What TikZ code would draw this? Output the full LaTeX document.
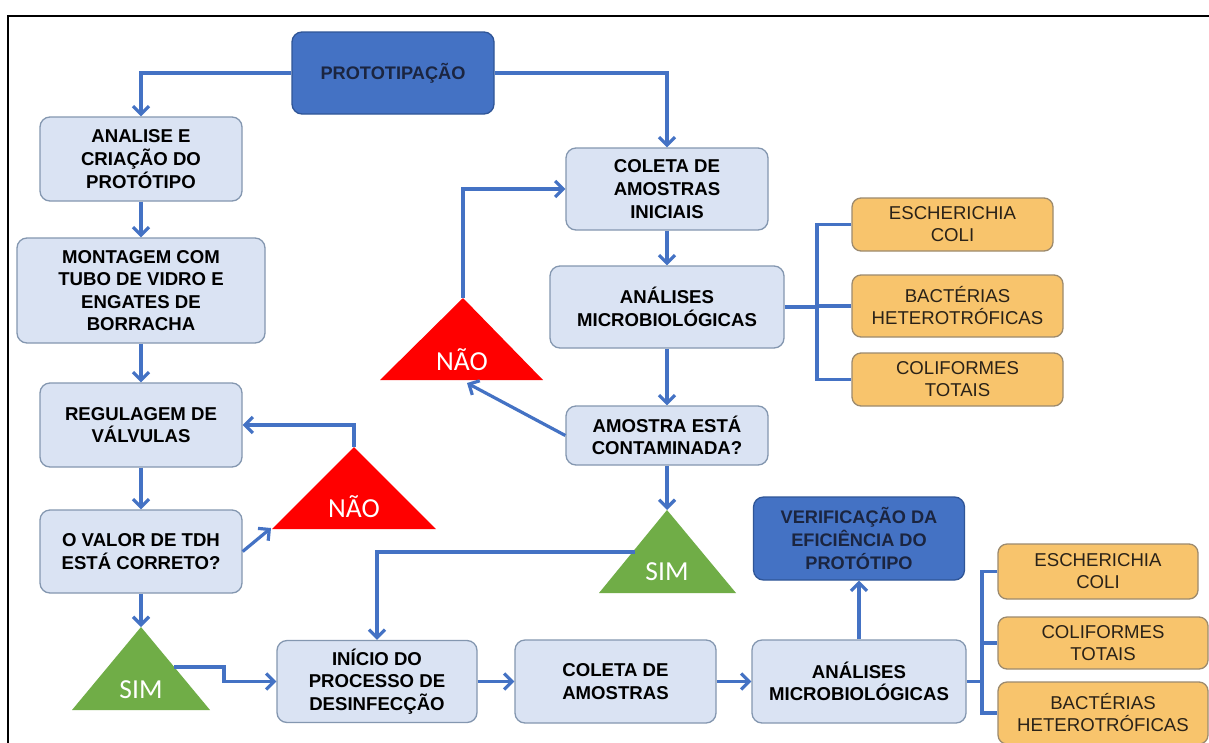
\documentclass[tikz,border=0pt]{standalone}
\usepackage{fontspec}
\setmainfont{Liberation Sans}
\newfontfamily\trifont{Carlito}
\usetikzlibrary{arrows.meta}
\definecolor{linecol}{HTML}{4472C4}
\definecolor{boxfill}{HTML}{DAE3F3}
\definecolor{boxedge}{HTML}{8497B0}
\definecolor{darkfill}{HTML}{4472C4}
\definecolor{darkedge}{HTML}{2F5597}
\definecolor{darktext}{HTML}{1B2540}
\definecolor{orfill}{HTML}{F8C46C}
\definecolor{oredge}{HTML}{9C8A6E}
\definecolor{ortext}{HTML}{2A2218}
\definecolor{trired}{HTML}{FF0000}
\definecolor{trigreen}{HTML}{70AD47}
\tikzset{
  sz/.style 2 args={minimum width=#1pt, minimum height=#2pt},
  box/.style={draw=boxedge, fill=boxfill, rounded corners=10pt, line width=1.3pt,
    align=center, inner sep=0pt, text=black,
    font=\bfseries\fontsize{18.6}{22.6}\selectfont},
  darkbox/.style={box, draw=darkedge, fill=darkfill, text=darktext,
    font=\bfseries\fontsize{18.2}{22.6}\selectfont},
  orbox/.style={draw=oredge, fill=orfill, rounded corners=9pt, line width=1.3pt,
    align=center, inner sep=0pt, text=ortext,
    font=\fontsize{18.6}{22}\selectfont},
  tritext/.style={text=white, inner sep=0pt, font=\trifont\fontsize{27.5}{27.5}\selectfont},
  conn/.style={draw=linecol, line width=3.2pt, -{Straight Barb[length=8pt,width=16pt]}},
  plain/.style={draw=linecol, line width=3.2pt},
}
\begin{document}
\begin{tikzpicture}[x=1pt,y=-1pt]
\useasboundingbox (0,0) rectangle (1209,742);
\clip (0,0) rectangle (1209,742);
\fill[white] (0,0) rectangle (1209,742);
\draw[black, line width=2pt] (8,16) rectangle (1230,770);

% boxes
\node[darkbox, sz={202}{82}] (proto) at (393,73) {PROTOTIPAÇÃO};
\node[box, sz={202}{84}] (analise) at (141,159) {ANALISE E\\CRIAÇÃO DO\\PROTÓTIPO};
\node[box, sz={248}{105}] (montagem) at (141,290.5) {MONTAGEM COM\\TUBO DE VIDRO E\\ENGATES DE\\BORRACHA};
\node[box, sz={202}{84}] (regulagem) at (141,425) {REGULAGEM DE\\VÁLVULAS};
\node[box, sz={202}{83}] (valor) at (141,551.5) {O VALOR DE TDH\\ESTÁ CORRETO?};
\node[box, sz={200}{82}] (inicio) at (377,681.5) {INÍCIO DO\\PROCESSO DE\\DESINFECÇÃO};
\node[box, sz={201}{83}] (coleta2) at (615.5,681.5) {COLETA DE\\AMOSTRAS};
\node[box, sz={214}{83}] (analises2) at (859,681.5) {ANÁLISES\\MICROBIOLÓGICAS};
\node[darkbox, sz={211}{83}] (verif) at (859,538.5) {VERIFICAÇÃO DA\\EFICIÊNCIA DO\\PROTÓTIPO};
\node[box, sz={202}{82}] (coleta1) at (667,189) {COLETA DE\\AMOSTRAS\\INICIAIS};
\node[box, sz={234}{82}] (analises1) at (667,307) {ANÁLISES\\MICROBIOLÓGICAS};
\node[box, sz={202}{59}] (amostra) at (667,435.5) {AMOSTRA ESTÁ\\CONTAMINADA?};

\node[orbox, sz={201}{53}] (or1) at (952.5,224.5) {ESCHERICHIA\\COLI};
\node[orbox, sz={211}{62}] (or2) at (957.5,306) {BACTÉRIAS\\HETEROTRÓFICAS};
\node[orbox, sz={211}{53}] (or3) at (957.5,379.5) {COLIFORMES\\TOTAIS};
\node[orbox, sz={200}{55}] (or4) at (1098,571.5) {ESCHERICHIA\\COLI};
\node[orbox, sz={210}{52}] (or5) at (1103,643) {COLIFORMES\\TOTAIS};
\node[orbox, sz={210}{62}] (or6) at (1103,713) {BACTÉRIAS\\HETEROTRÓFICAS};

% triangles
\coordinate (naoA) at (463,298);
\coordinate (naoAL) at (380,380);
\coordinate (naoAR) at (543,380);
\fill[trired] (naoA) -- (naoAR) -- (naoAL) -- cycle;
\node[tritext] (naoAt) at (462,360) {NÃO};

\coordinate (simA) at (667,510);
\coordinate (simAL) at (599,593);
\coordinate (simAR) at (736,593);
\fill[trigreen] (simA) -- (simAR) -- (simAL) -- cycle;
\node[tritext] (simAt) at (667,572) {SIM};

\coordinate (naoB) at (354,447);
\coordinate (naoBL) at (272,529);
\coordinate (naoBR) at (436,529);
\fill[trired] (naoB) -- (naoBR) -- (naoBL) -- cycle;
\node[tritext] (naoBt) at (354,507) {NÃO};

\coordinate (simB) at (141,627);
\coordinate (simBL) at (72,710);
\coordinate (simBR) at (210,710);
\fill[trigreen] (simB) -- (simBR) -- (simBL) -- cycle;
\node[tritext] (simBt) at (141,690) {SIM};

% edge points on triangles
\coordinate (simBout) at (174,667);
\coordinate (simAout) at (635,552);
\coordinate (naoBin) at (271,528);
\coordinate (naoAin) at (467,383);

% connectors
\draw[conn] (proto.west) -| (analise.north);
\draw[conn] (proto.east) -| (coleta1.north);
\draw[conn] (analise.south) -- (montagem.north);
\draw[conn] (montagem.south) -- (regulagem.north);
\draw[conn] (regulagem.south) -- (valor.north);
\draw[conn] (valor.south) -- (simB);
\draw[conn] (valor.east) -- (naoBin);
\draw[conn] (naoB) |- (regulagem.east);
\draw[conn] (simBout) -- ++(50,0) |- (inicio.west);
\draw[conn] (inicio.east) -- (coleta2.west);
\draw[conn] (coleta2.east) -- (analises2.west);
\draw[conn] (analises2.north) -- (verif.south);

\draw[conn] (coleta1.south) -- (analises1.north);
\draw[conn] (analises1.south) -- (amostra.north);
\draw[conn] (amostra.south) -- (simA);
\draw[conn] (amostra.west) -- (naoAin);
\draw[conn] (naoA) |- (coleta1.west);
\draw[conn] (simAout) -| (inicio.north);

% brackets
\coordinate (brA) at (817,307);
\draw[plain] (analises1.east) -- (brA);
\draw[plain] (or1.west) -| (brA) |- (or3.west);
\draw[plain] (brA |- or2.west) -- (or2.west);

\coordinate (brB) at (982,681.5);
\draw[plain] (analises2.east) -- (brB);
\draw[plain] (or4.west) -| (brB) |- (or6.west);
\draw[plain] (brB |- or5.west) -- (or5.west);
\end{tikzpicture}
\end{document}
